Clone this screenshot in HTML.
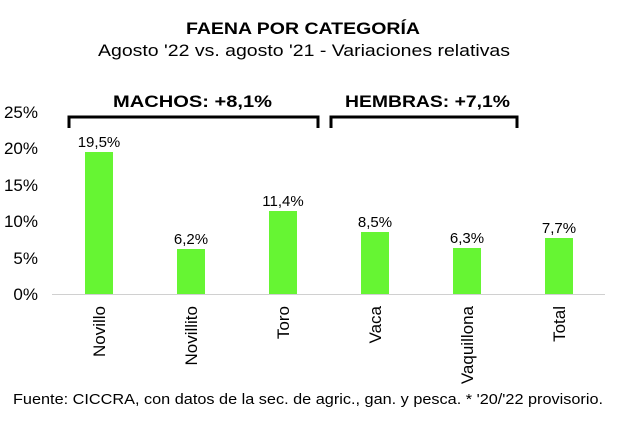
<!DOCTYPE html>
<html><head><meta charset="utf-8"><style>
body{margin:0;background:#fff;}
svg{display:block;font-family:"Liberation Sans",Arial,sans-serif;}
</style></head><body>
<svg width="618" height="429" viewBox="0 0 618 429">
<rect width="618" height="429" fill="#fff"/>
<text x="186" y="34" font-size="17" font-weight="bold" textLength="234" lengthAdjust="spacingAndGlyphs">FAENA POR CATEGORÍA</text>
<text x="98" y="56" font-size="16.5" textLength="412" lengthAdjust="spacingAndGlyphs">Agosto '22 vs. agosto '21 - Variaciones relativas</text>
<text x="113" y="107" font-size="16.5" font-weight="bold" textLength="159" lengthAdjust="spacingAndGlyphs">MACHOS: +8,1%</text>
<text x="345" y="107" font-size="16.5" font-weight="bold" textLength="165" lengthAdjust="spacingAndGlyphs">HEMBRAS: +7,1%</text>
<path d="M69,128 V117 H318 V128" fill="none" stroke="#000" stroke-width="3"/>
<path d="M331,128 V117 H517 V128" fill="none" stroke="#000" stroke-width="3"/>
<g font-size="17" text-anchor="end">
<text x="38" y="118">25%</text><text x="38" y="154">20%</text><text x="38" y="191">15%</text>
<text x="38" y="227">10%</text><text x="38" y="264">5%</text><text x="38" y="300">0%</text>
</g>
<line x1="52" y1="294.5" x2="605" y2="294.5" stroke="#d0d0d0" stroke-width="1"/>
<g fill="#66f533">
<rect x="85" y="152" width="28" height="142"/>
<rect x="177" y="249" width="28" height="45"/>
<rect x="269" y="211" width="28" height="83"/>
<rect x="361" y="232" width="28" height="62"/>
<rect x="453" y="248" width="28" height="46"/>
<rect x="545" y="238" width="28" height="56"/>
</g>
<g font-size="15" text-anchor="middle">
<text x="99" y="147">19,5%</text><text x="191" y="244">6,2%</text><text x="283" y="206">11,4%</text>
<text x="375" y="227">8,5%</text><text x="467" y="243">6,3%</text><text x="559" y="233">7,7%</text>
</g>
<g font-size="17" text-anchor="end">
<text transform="translate(105,306) rotate(-90)">Novillo</text>
<text transform="translate(197,306) rotate(-90)">Novillito</text>
<text transform="translate(289,306) rotate(-90)">Toro</text>
<text transform="translate(381,306) rotate(-90)">Vaca</text>
<text transform="translate(473,306) rotate(-90)">Vaquillona</text>
<text transform="translate(565,306) rotate(-90)">Total</text>
</g>
<text x="13" y="404" font-size="15" textLength="590" lengthAdjust="spacingAndGlyphs">Fuente: CICCRA, con datos de la sec. de agric., gan. y pesca. * '20/'22 provisorio.</text>
</svg>
</body></html>
